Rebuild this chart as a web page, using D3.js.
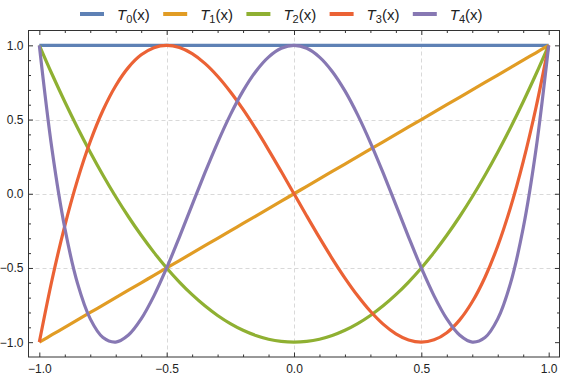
<!DOCTYPE html>
<html><head><meta charset="utf-8">
<script src="https://cdn.jsdelivr.net/npm/d3@7"></script>
<style>
body{margin:0;background:#fff;}
svg{display:block;font-family:"Liberation Sans",Arial,sans-serif;}
</style></head>
<body><svg id="c" width="561" height="376"></svg>
<script>
const xs = [-1,-0.95,-0.9,-0.85,-0.8,-0.75,-0.7,-0.65,-0.6,-0.55,-0.5,-0.45,-0.4,-0.35,-0.3,-0.25,-0.2,-0.15,-0.1,-0.05,0,
  0.05,0.1,0.15,0.2,0.25,0.3,0.35,0.4,0.45,0.5,0.55,0.6,0.65,0.7,0.75,0.8,0.85,0.9,0.95,1];
const t0 = [1,1,1,1,1,1,1,1,1,1,1,1,1,1,1,1,1,1,1,1,1,1,1,1,1,1,1,1,1,1,1,1,1,1,1,1,1,1,1,1,1];
const t1 = [-1,-0.95,-0.9,-0.85,-0.8,-0.75,-0.7,-0.65,-0.6,-0.55,-0.5,-0.45,-0.4,-0.35,-0.3,-0.25,-0.2,-0.15,-0.1,-0.05,0,
  0.05,0.1,0.15,0.2,0.25,0.3,0.35,0.4,0.45,0.5,0.55,0.6,0.65,0.7,0.75,0.8,0.85,0.9,0.95,1];
const t2 = [1,0.805,0.62,0.445,0.28,0.125,-0.02,-0.155,-0.28,-0.395,-0.5,-0.595,-0.68,-0.755,-0.82,-0.875,-0.92,-0.955,-0.98,-0.995,-1,
  -0.995,-0.98,-0.955,-0.92,-0.875,-0.82,-0.755,-0.68,-0.595,-0.5,-0.395,-0.28,-0.155,-0.02,0.125,0.28,0.445,0.62,0.805,1];
const t3 = [-1,-0.5795,-0.216,0.0935,0.352,0.5625,0.728,0.8515,0.936,0.9845,1,0.9855,0.944,0.8785,0.792,0.6875,0.568,0.4365,0.296,0.1495,0,
  -0.1495,-0.296,-0.4365,-0.568,-0.6875,-0.792,-0.8785,-0.944,-0.9855,-1,-0.9845,-0.936,-0.8515,-0.728,-0.5625,-0.352,-0.0935,0.216,0.5795,1];
const t4 = [1,0.29605,-0.2312,-0.60395,-0.8432,-0.96875,-0.9992,-0.95195,-0.8432,-0.68795,-0.5,-0.29195,-0.0752,0.14005,0.3448,0.53125,0.6928,0.82405,0.9208,0.98005,1,
  0.98005,0.9208,0.82405,0.6928,0.53125,0.3448,0.14005,-0.0752,-0.29195,-0.5,-0.68795,-0.8432,-0.95195,-0.9992,-0.96875,-0.8432,-0.60395,-0.2312,0.29605,1];
const seriesNames = ["0","1","2","3","4"];
const seriesValues = [t0,t1,t2,t3,t4];
const colors = ["#5E81B5","#E19C24","#8FB032","#EB6235","#8778B3"];
const majorTicks = [-1,-0.5,0,0.5,1];
const majorLabels = ["−1.0","−0.5","0.0","0.5","1.0"];
const gridVals = [-0.5,0,0.5];

const svg = d3.select("#c");
const L=28.5,R=559.5,T=30.5,B=357;
const x = d3.scaleLinear().domain([-1.0425,1.0425]).range([L,R]);
const y = d3.scaleLinear().domain([-1.1,1.1]).range([B,T]);
const minor = d3.range(-10,11).map(d=>d/10).filter(d=>Math.abs(d*2-Math.round(d*2))>1e-9);

// grid
const g = svg.append("g").attr("stroke","#d9d9d9").attr("stroke-width",1).attr("stroke-dasharray","4,3");
gridVals.forEach(v=>{
  g.append("line").attr("x1",Math.round(x(v))+0.5).attr("x2",Math.round(x(v))+0.5).attr("y1",T).attr("y2",B);
  g.append("line").attr("y1",Math.round(y(v))+0.5).attr("y2",Math.round(y(v))+0.5).attr("x1",L).attr("x2",R);
});

// curves
const line = d3.line().x((d,i)=>x(xs[i])).y(d=>y(d)).curve(d3.curveCatmullRom.alpha(0.5));
seriesValues.forEach((s,k)=>{
  svg.append("path").attr("d",line(s)).attr("fill","none").attr("stroke",colors[k])
    .attr("stroke-width",3.2).attr("stroke-linejoin","round").attr("stroke-linecap","butt");
});

// axes
function styleAxis(sel){
  sel.select(".domain").remove();
  sel.selectAll("line").attr("stroke","#333");
  sel.selectAll("text").attr("fill","#222").style("font-size","12px").style("font-family","Liberation Sans, Arial, sans-serif");
}
const lab = (d)=>majorLabels[majorTicks.indexOf(d)];
svg.append("g").attr("transform",`translate(0,${B})`)
  .call(d3.axisBottom(x).tickValues(majorTicks).tickSize(-4.5).tickPadding(7).tickFormat(lab)).call(styleAxis);
svg.append("g").attr("transform",`translate(0,${B})`)
  .call(d3.axisBottom(x).tickValues(minor).tickSize(-2.5).tickFormat("")).call(styleAxis);
svg.append("g").attr("transform",`translate(0,${T})`)
  .call(d3.axisTop(x).tickValues(majorTicks).tickSize(-4.5).tickFormat("")).call(styleAxis);
svg.append("g").attr("transform",`translate(0,${T})`)
  .call(d3.axisTop(x).tickValues(minor).tickSize(-2.5).tickFormat("")).call(styleAxis);
svg.append("g").attr("transform",`translate(${L},0)`)
  .call(d3.axisLeft(y).tickValues(majorTicks).tickSize(-4.5).tickPadding(5).tickFormat(lab)).call(styleAxis);
svg.append("g").attr("transform",`translate(${L},0)`)
  .call(d3.axisLeft(y).tickValues(minor).tickSize(-2.5).tickFormat("")).call(styleAxis);
svg.append("g").attr("transform",`translate(${R},0)`)
  .call(d3.axisRight(y).tickValues(majorTicks).tickSize(-4.5).tickFormat("")).call(styleAxis);
svg.append("g").attr("transform",`translate(${R},0)`)
  .call(d3.axisRight(y).tickValues(minor).tickSize(-2.5).tickFormat("")).call(styleAxis);

svg.append("rect").attr("x",L).attr("y",T).attr("width",R-L).attr("height",B-T)
  .attr("fill","none").attr("stroke","#333").attr("stroke-width",1);

// legend
const lg = svg.append("g").attr("transform","translate(80,14)");
seriesNames.forEach((n,k)=>{
  const it = lg.append("g").attr("transform",`translate(${k*83.2},0)`);
  it.append("line").attr("x1",0).attr("x2",24).attr("y1",0).attr("y2",0)
    .attr("stroke",colors[k]).attr("stroke-width",4);
  const t = it.append("text").attr("x",37).attr("y",5.5).style("font-size","15px").attr("fill","#222");
  t.append("tspan").attr("font-style","italic").text("T");
  t.append("tspan").attr("dy",3).style("font-size","11px").text(n);
  t.append("tspan").attr("dy",-3).text("(x)");
});
</script></body></html>
